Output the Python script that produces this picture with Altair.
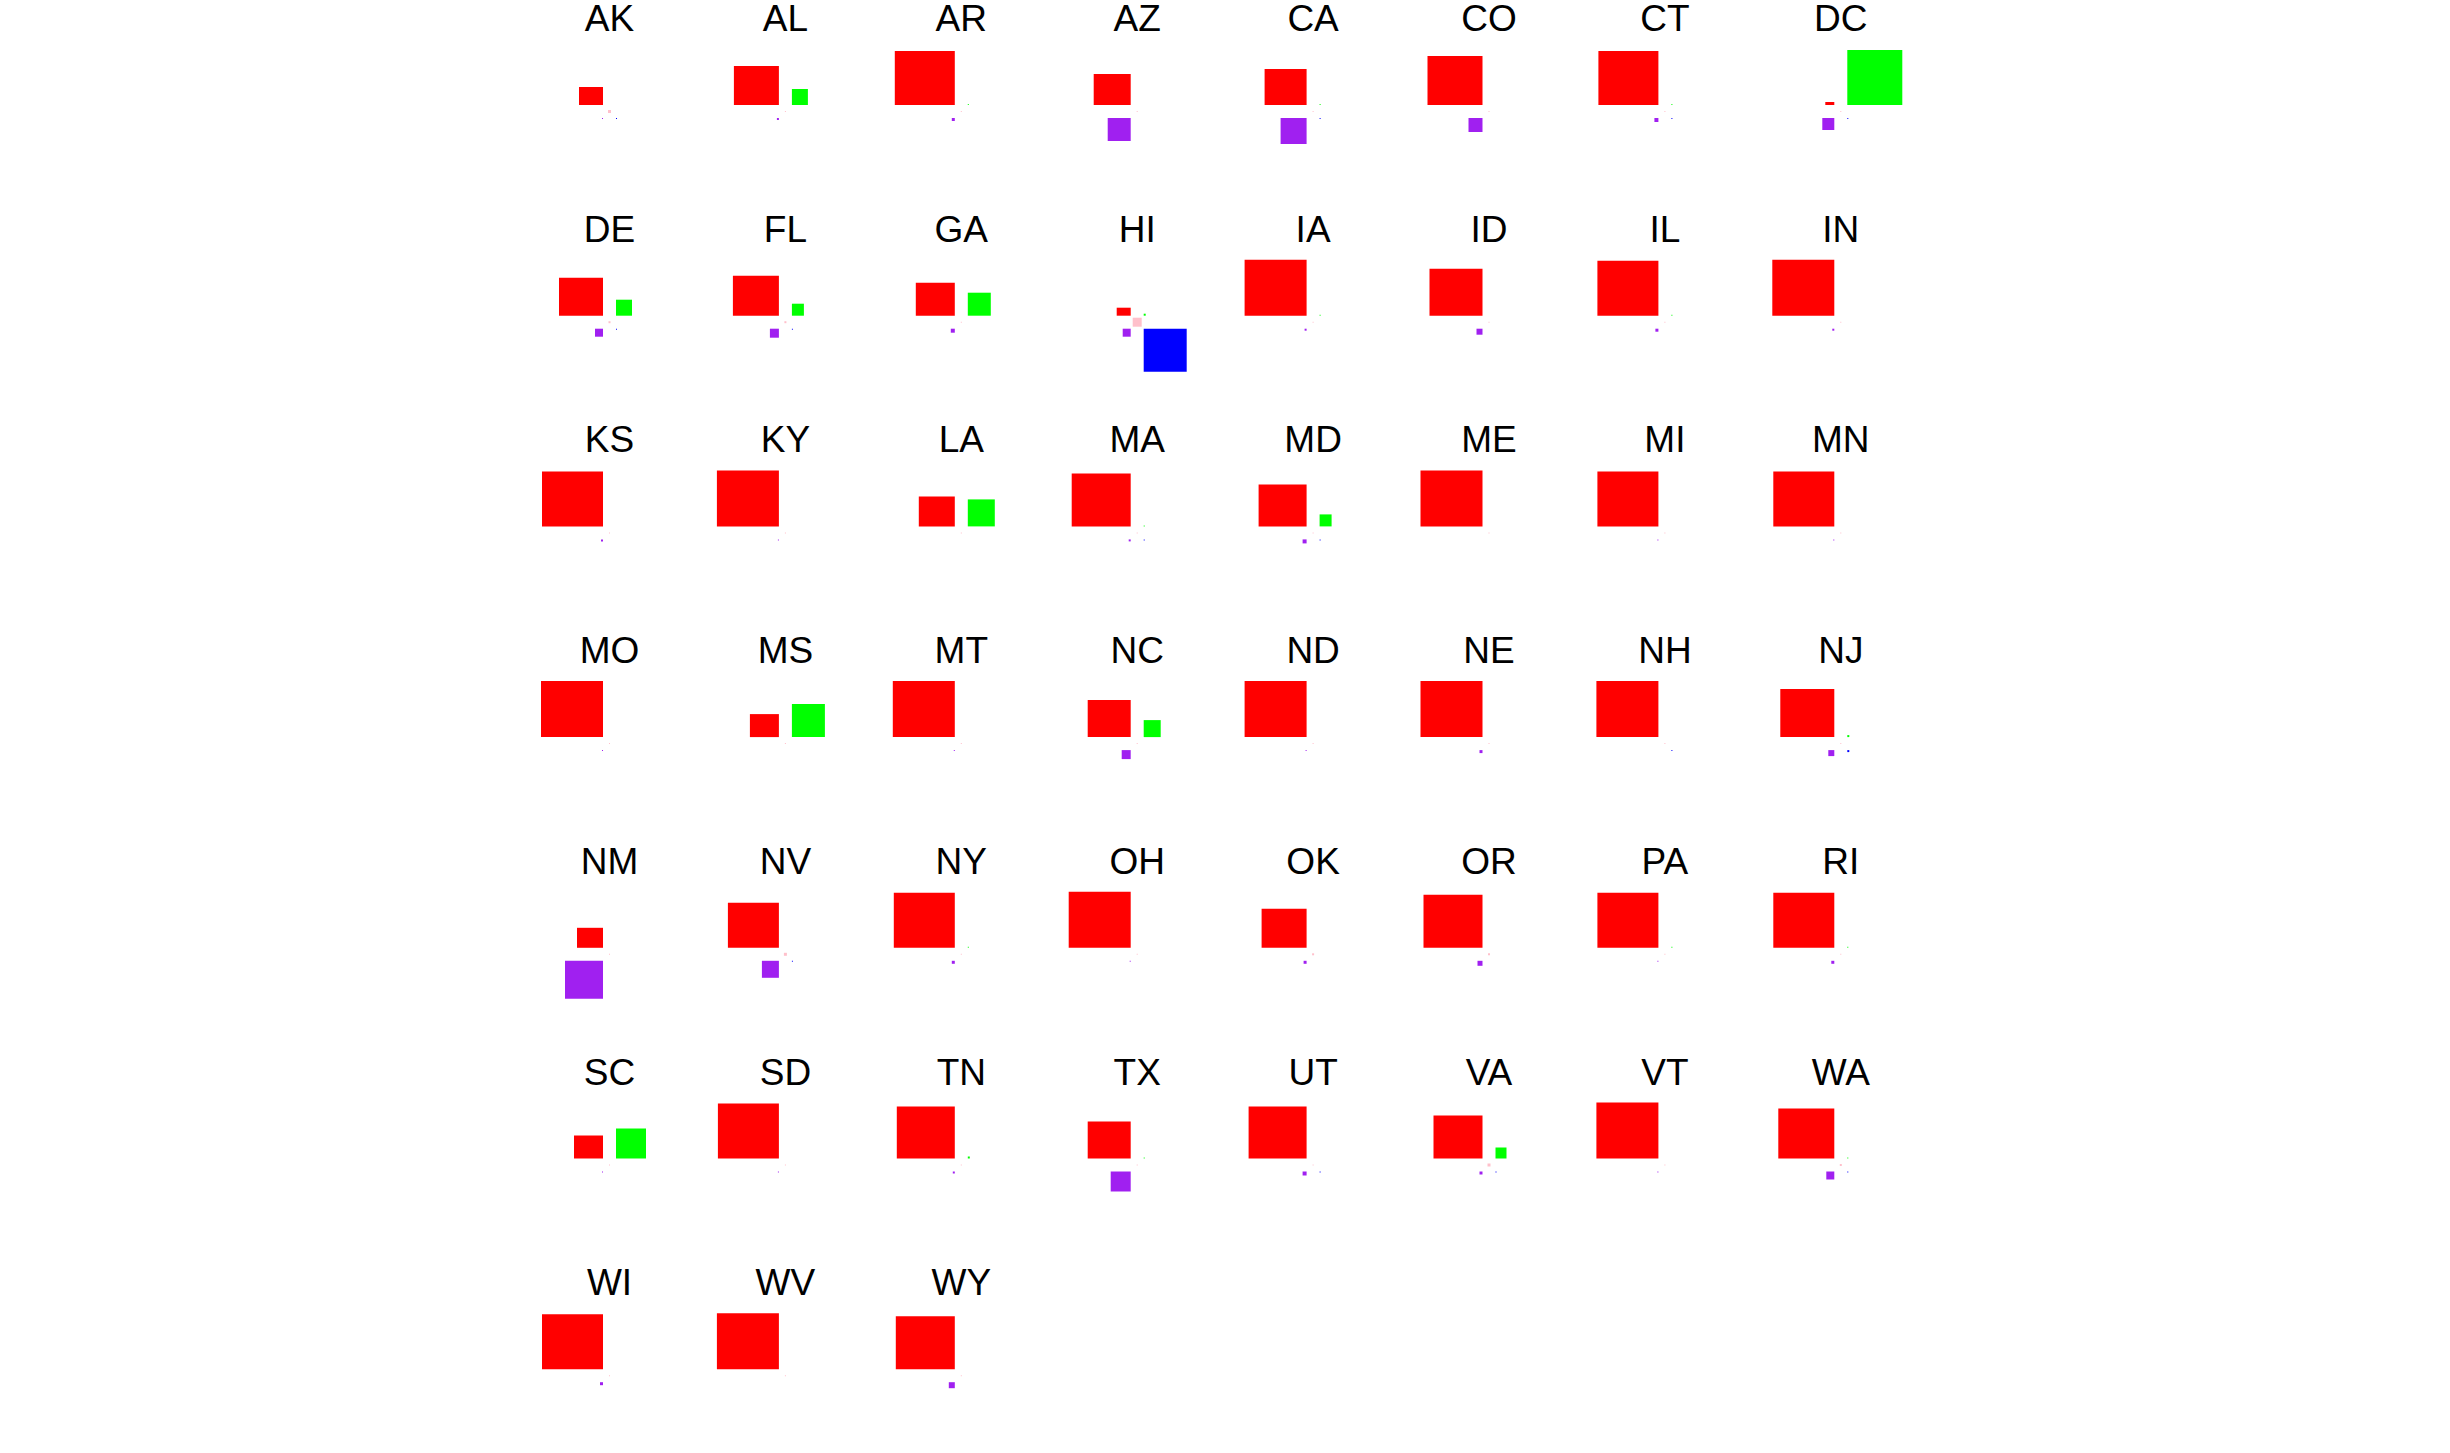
import altair as alt
import pandas as pd

# State labels in panel order (8 per row)
states = ["AK", "AL", "AR", "AZ", "CA", "CO", "CT", "DC",
          "DE", "FL", "GA", "HI", "IA", "ID", "IL", "IN",
          "KS", "KY", "LA", "MA", "MD", "ME", "MI", "MN",
          "MO", "MS", "MT", "NC", "ND", "NE", "NH", "NJ",
          "NM", "NV", "NY", "OH", "OK", "OR", "PA", "RI",
          "SC", "SD", "TN", "TX", "UT", "VA", "VT", "WA",
          "WI", "WV", "WY"]

# Square-root scaled group sizes (side of each square)
white = [18, 39, 54, 31, 36, 49, 54, 3,
         38, 40, 33, 8, 56, 47, 55, 56,
         55, 56, 30, 53, 42, 56, 55, 55,
         56, 23, 56, 37, 56, 56, 56, 48,
         20, 45, 55, 56, 39, 53, 55, 55,
         23, 55, 52, 37, 52, 43, 56, 50,
         55, 56, 53]
black = [0, 16, 1, 0, 1, 0, 1, 55,
         16, 12, 23, 2, 1, 0, 1, 0,
         0, 0, 27, 1, 12, 0, 0, 0,
         0, 33, 0, 17, 0, 0, 0, 2,
         0, 0, 1, 0, 0, 0, 1, 1,
         30, 0, 2, 1, 0, 11, 0, 1,
         0, 0, 0]
hispanic = [1, 2, 3, 23, 26, 14, 4, 12,
            8, 9, 4, 8, 2, 6, 3, 2,
            2, 1, 0, 2, 4, 0, 1, 1,
            1, 0, 1, 9, 1, 3, 0, 6,
            38, 17, 3, 1, 3, 5, 1, 3,
            1, 1, 2, 20, 4, 3, 1, 8,
            3, 0, 6]
asian = [1, 0, 0, 0, 1, 0, 1, 1,
         1, 1, 0, 43, 0, 0, 0, 0,
         0, 0, 0, 1, 1, 0, 0, 0,
         0, 0, 0, 0, 0, 0, 1, 2,
         0, 1, 0, 0, 0, 0, 0, 0,
         0, 0, 0, 0, 1, 1, 0, 1,
         0, 0, 0]
other = [3, 1, 1, 1, 1, 1, 1, 1,
         2, 2, 1, 9, 1, 1, 1, 1,
         1, 1, 1, 1, 1, 1, 1, 1,
         1, 1, 1, 1, 1, 1, 1, 1,
         1, 3, 1, 1, 2, 2, 1, 1,
         1, 1, 1, 1, 1, 3, 1, 2,
         1, 1, 1]

groups = ["white", "black", "hispanic", "asian", "other"]
colors = ["#FF0000", "#00FF00", "#A020F0", "#0000FF", "#FFC0CB"]

# layout constants (pixels)
X0, DX = 609.5, 175.9
Y0, DY = 111.5, 210.7
G = 6.5

rows = []
labels = []
for i, st in enumerate(states):
    c, r = i % 8, i // 8
    cx, cy = X0 + DX * c, Y0 + DY * r
    labels.append({"state": st, "x": cx, "y": cy - 80.5})
    vals = {"white": white[i], "black": black[i], "hispanic": hispanic[i],
            "asian": asian[i], "other": other[i]}
    for gname, s in vals.items():
        if s <= 0:
            continue
        if gname == "white":
            x, x2, y, y2 = cx - G - (s + 6), cx - G, cy - G - s, cy - G
        elif gname == "black":
            x, x2, y, y2 = cx + G, cx + G + s, cy - G - s, cy - G
        elif gname == "hispanic":
            x, x2, y, y2 = cx - G - s, cx - G, cy + G, cy + G + s
        elif gname == "asian":
            x, x2, y, y2 = cx + G, cx + G + s, cy + G, cy + G + s
        else:
            x, x2, y, y2 = cx - s / 2, cx + s / 2, cy - s / 2, cy + s / 2
        rows.append({"state": st, "group": gname, "x": x, "x2": x2, "y": y, "y2": y2})

df = pd.DataFrame(rows)
lab = pd.DataFrame(labels)

W, H = 2440, 1440
xs = alt.Scale(domain=[0, W], nice=False, zero=False)
ys = alt.Scale(domain=[0, H], nice=False, zero=False, reverse=True)

rects = alt.Chart(df).mark_rect().encode(
    x=alt.X("x:Q", scale=xs, axis=None),
    x2="x2:Q",
    y=alt.Y("y:Q", scale=ys, axis=None),
    y2="y2:Q",
    color=alt.Color("group:N", scale=alt.Scale(domain=groups, range=colors), legend=None),
)

text = alt.Chart(lab).mark_text(
    font="Liberation Sans", fontSize=37, baseline="alphabetic", align="center", color="black"
).encode(
    x=alt.X("x:Q", scale=xs, axis=None),
    y=alt.Y("y:Q", scale=ys, axis=None),
    text="state:N",
)

chart = alt.layer(rects, text).properties(
    width=W, height=H, padding=0, background="white",
    autosize=alt.AutoSizeParams(type="none")
).configure_view(strokeWidth=0, stroke="transparent")

chart.save("out.html", embed_options={"renderer": "svg", "actions": False})
